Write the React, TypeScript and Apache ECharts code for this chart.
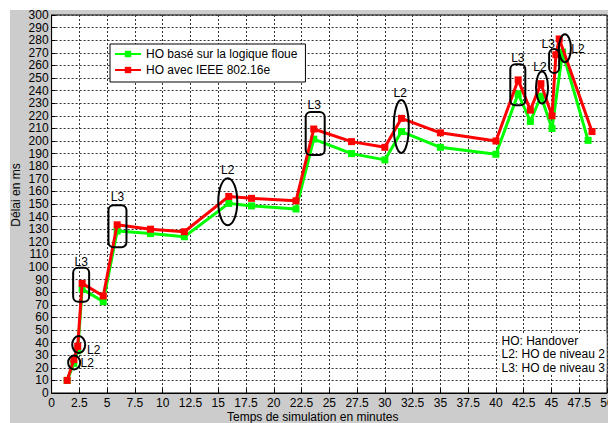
import React, { useEffect, useRef } from "react";
import * as echarts from "echarts";

const FONT = "'Liberation Sans', Arial, sans-serif";

// Series: HO basé sur la logique floue (green)
const fuzzyX = [1.4, 2.0, 2.35, 2.75, 4.65, 5.9, 8.9, 11.95, 15.95, 18.0, 22.0, 23.6, 27.0, 30.0, 31.5, 35.0, 40.0, 42.0, 43.1, 44.05, 45.05, 46.0, 48.3];
const fuzzyY = [10, 23.5, 33.5, 82.5, 72.5, 128.5, 126.5, 124, 150.5, 148.5, 146, 201.5, 190, 185, 207.5, 195, 189.5, 237.5, 215.5, 235.5, 210, 270.5, 200.5];

// Series: HO avec IEEE 802.16e (red)
const ieeeX = [1.4, 2.0, 2.35, 2.75, 4.65, 5.9, 8.9, 11.95, 15.95, 18.0, 22.0, 23.6, 27.0, 30.0, 31.5, 35.0, 40.0, 42.0, 43.1, 44.05, 45.05, 45.4, 45.7, 48.65];
const ieeeY = [10, 26.5, 37, 87, 77, 133.5, 130, 128, 156, 154.5, 152.5, 209.5, 199.5, 195, 218, 206.5, 200, 248.5, 224.5, 245.5, 220, 268.5, 281, 207.5];

const seriesNames = ["HO basé sur la logique floue", "HO avec IEEE 802.16e"];

// Annotation markers (data-space centres)
const annX = [2.03, 2.44, 2.66, 5.93, 15.86, 23.73, 31.48, 41.97, 44.15, 45.24, 46.21];
const annY = [24.2, 38.4, 85.9, 132.4, 151.7, 206.0, 211.6, 244.6, 242.4, 263.5, 273.6];
const annLabel = ["L2", "L2", "L3", "L3", "L2", "L3", "L2", "L3", "L2", "L3", "L2"];
const annKind = ["ellipse", "ellipse", "rect", "rect", "ellipse", "rect", "ellipse", "rect", "ellipse", "rect", "ellipse"];
// marker sizes (px) and label offsets (px) – styling
const annW = [12, 13, 16, 18, 19, 19, 15, 15, 12, 10, 12];
const annH = [14, 17, 34, 42, 47, 43, 53, 41, 32, 24, 28];
const annLx = [13, 15, 0, 0, 0, -1, -1, 0, -2, -6, 13];
const annLy = [0, 5, -23, -29, -32, -28, -33, -27, -21, -17, 1];

const notes = ["HO: Handover", "L2: HO de niveau 2", "L3: HO de niveau 3"];

export default function App() {
  const ref = useRef<HTMLDivElement>(null);
  useEffect(() => {
    if (!ref.current) return;
    const chart = echarts.init(ref.current, null, { renderer: "svg" });
    const pairs = (xs: number[], ys: number[]) => xs.map((x, i) => [x, ys[i]]);
    const option: any = {
      animation: false,
      backgroundColor: "transparent",
      textStyle: { fontFamily: FONT, color: "#000" },
      grid: {
        left: 51.6,
        right: 1,
        top: 15,
        bottom: 30,
        show: true,
        containLabel: false,
        outerBoundsMode: "none",
        backgroundColor: "#ffffff",
        borderColor: "#000",
        borderWidth: 1,
      },
      legend: {
        data: seriesNames,
        orient: "vertical",
        left: 110,
        top: 44,
        itemWidth: 26,
        itemHeight: 8,
        itemGap: 2,
        padding: [3, 8, 5, 4],
        backgroundColor: "#fff",
        borderColor: "#000",
        borderWidth: 1,
        borderRadius: 0,
        textStyle: { fontSize: 12, fontFamily: FONT, color: "#000", lineHeight: 14 },
      },
      xAxis: {
        type: "value",
        min: 0,
        max: 50,
        interval: 2.5,
        axisLine: { lineStyle: { color: "#000", width: 1 } },
        axisTick: { inside: true, length: 4, lineStyle: { color: "#000" } },
        axisLabel: { fontSize: 12, fontFamily: FONT, color: "#000", margin: 4 },
        splitLine: { show: true, lineStyle: { color: "#333", type: [2, 2], width: 1 } },
      },
      yAxis: {
        type: "value",
        min: 0,
        max: 300,
        interval: 10,
        axisLine: { show: true, lineStyle: { color: "#000", width: 1 } },
        axisTick: { show: true, inside: true, length: 4, lineStyle: { color: "#000" } },
        axisLabel: { fontSize: 12, fontFamily: FONT, color: "#000", margin: 3 },
        splitLine: { show: true, lineStyle: { color: "#333", type: [2, 2], width: 1 } },
      },
      series: [
        {
          name: seriesNames[0],
          type: "line",
          data: pairs(fuzzyX, fuzzyY),
          color: "#00ff00",
          symbol: "rect",
          symbolSize: 7,
          lineStyle: { width: 3, color: "#00ff00" },
          itemStyle: { color: "#00ff00" },
          z: 2,
        },
        {
          name: seriesNames[1],
          type: "line",
          data: pairs(ieeeX, ieeeY),
          color: "#ff0000",
          symbol: "rect",
          symbolSize: 7,
          lineStyle: { width: 3, color: "#ff0000" },
          itemStyle: { color: "#ff0000" },
          z: 3,
        },
        {
          name: "annotations",
          type: "custom",
          clip: false,
          silent: true,
          z: 4,
          data: pairs(annX, annY),
          renderItem: (params: any, api: any) => {
            const i = params.dataIndex;
            const c = api.coord([api.value(0), api.value(1)]);
            const w = annW[i];
            const h = annH[i];
            const stroke = { fill: "none", stroke: "#000", lineWidth: 2 };
            const shape =
              annKind[i] === "ellipse"
                ? { type: "ellipse", shape: { cx: c[0], cy: c[1], rx: w / 2, ry: h / 2 }, style: stroke }
                : { type: "rect", shape: { x: c[0] - w / 2, y: c[1] - h / 2, width: w, height: h, r: 5 }, style: stroke };
            return {
              type: "group",
              children: [
                shape,
                {
                  type: "text",
                  x: c[0] + annLx[i],
                  y: c[1] + annLy[i],
                  style: {
                    text: annLabel[i],
                    align: "center",
                    verticalAlign: "middle",
                    fontSize: 12,
                    fontFamily: FONT,
                    fill: "#000",
                  },
                },
              ],
            };
          },
        },
      ],
      graphic: [
        {
          type: "text",
          left: 227,
          top: 411,
          style: { text: "Temps de simulation en minutes", fontSize: 12, fontFamily: FONT, fill: "#000" },
        },
        {
          type: "text",
          x: 16,
          y: 195,
          rotation: Math.PI / 2,
          style: {
            text: "Délai en ms",
            fontSize: 12,
            fontFamily: FONT,
            fill: "#000",
            align: "center",
            verticalAlign: "middle",
          },
        },
        {
          type: "rect",
          x: 500,
          y: 333.3,
          z: 10,
          shape: { width: 106.5, height: 40.7 },
          style: { fill: "#fff" },
        },
        ...notes.map((t, i) => ({
          type: "text",
          x: 501.5,
          y: 340.7 + i * 13.6,
          z: 11,
          style: { text: t, fontSize: 12, fontFamily: FONT, fill: "#000", verticalAlign: "middle" },
        })),
      ],
    };
    chart.setOption(option);
    return () => chart.dispose();
  }, []);
  return (
    <div style={{ position: "fixed", left: 0, top: 0, width: 608, height: 423, background: "#fff" }}>
      <div style={{ position: "absolute", left: 10, top: 10, width: 598, height: 413, background: "#cccccc" }} />
      <div ref={ref} style={{ position: "absolute", left: 0, top: 0, width: 608, height: 423 }} />
    </div>
  );
}
